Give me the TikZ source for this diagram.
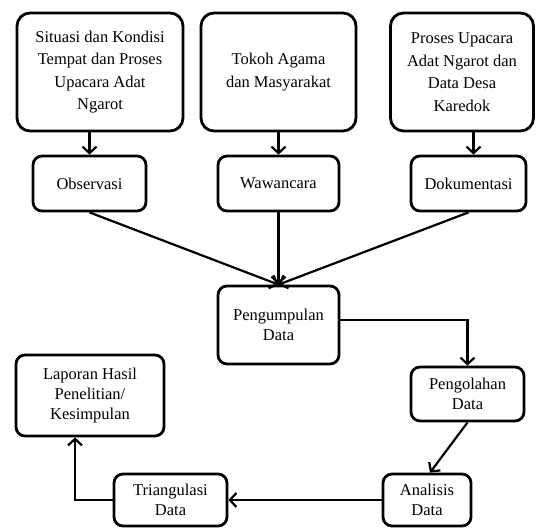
\documentclass[tikz,border=0pt]{standalone}
\usepackage{fontspec}
\setmainfont{Liberation Serif}
\usetikzlibrary{arrows.meta,positioning}

\begin{document}
\begin{tikzpicture}[x=1pt,y=-1pt,->,>={Straight Barb[length=6.5pt,width=14pt]},line width=2.2pt]
		\tikzstyle{every node}=[font=\fontsize{16.5}{20}\selectfont,align=center,inner sep=2pt]
		\tikzstyle{sumber}=[draw=black,line width=2.8pt,rounded corners=13pt,font=\fontsize{16.5}{22.5}\selectfont]
		\tikzstyle{tahap}=[draw=black,line width=2.8pt,rounded corners=9pt]
		\useasboundingbox (0,0) rectangle (537,528);
		% sumber data
		\node[sumber,minimum width=166pt,minimum height=118pt] (situasi) at (100,72)   {Situasi dan Kondisi\\Tempat dan Proses\\Upacara Adat\\Ngarot};
		\node[sumber,minimum width=155pt,minimum height=118pt] (tokoh)   at (278.5,72) {Tokoh Agama\\dan Masyarakat};
		\node[sumber,minimum width=143pt,minimum height=118pt] (proses)  at (462,72)   {Proses Upacara\\Adat Ngarot dan\\Data Desa\\Karedok};
		% teknik
		\node[tahap,minimum width=113pt,minimum height=55pt] (obs) at (89.5,183.5)  {Observasi};
		\node[tahap,minimum width=121pt,minimum height=55pt] (waw) at (278.5,183.5) {Wawancara};
		\node[tahap,minimum width=115pt,minimum height=55pt] (dok) at (468.5,183.5) {Dokumentasi};
		% analisis
		\node[tahap,minimum width=121pt,minimum height=78pt] (kumpul) at (278.5,325) {Pengumpulan\\Data};
		\node[tahap,minimum width=113pt,minimum height=54pt] (olah)   at (467.5,394) {Pengolahan\\Data};
		\node[tahap,minimum width=88pt,minimum height=52pt]  (anal)   at (427,500)   {Analisis\\Data};
		\node[tahap,minimum width=113pt,minimum height=52pt] (tri)    at (170.5,500) {Triangulasi\\Data};
		\node[tahap,minimum width=148pt,minimum height=81pt] (lap)    at (90,395.5)  {Laporan Hasil\\Penelitian/\\Kesimpulan};
		\path
		(situasi.south -| obs.north) edge (obs.north)
		(tokoh.south) edge (waw.north)
		([xshift=5pt]dok.north |- proses.south) edge ([xshift=5pt]dok.north)
		(obs.south) edge (kumpul.north)
		(waw.south) edge (kumpul.north)
		(dok.south) edge (kumpul.north)
		(olah.south) edge ([xshift=3pt]anal.north)
		(anal.west) edge (tri.east);
		\draw ([yshift=5pt]kumpul.east) -| (olah.north);
		\draw (tri.west) -| ([xshift=-15pt]lap.south);
	\end{tikzpicture}
\end{document}
